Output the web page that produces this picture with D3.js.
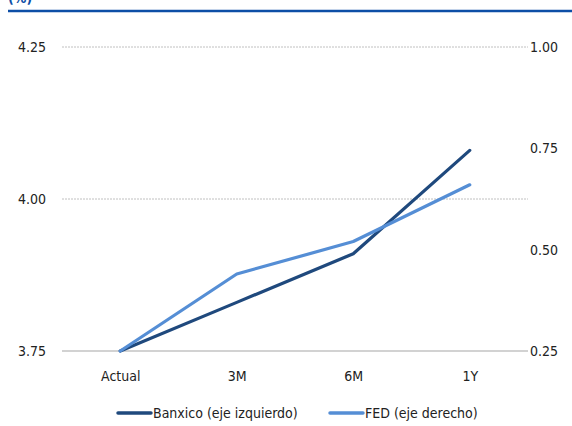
<!DOCTYPE html>
<html><head><meta charset="utf-8">
<script src="https://cdn.jsdelivr.net/npm/d3@7"></script>
<style>
body{margin:0;background:#fff;}
text{font-family:"Liberation Sans Narrow","DejaVu Sans Condensed",sans-serif;}
</style></head>
<body><svg id="c" width="572" height="426"></svg>
<script>
const categories = ["Actual","3M","6M","1Y"];
const banxico = [3.75, 3.83, 3.91, 4.08];
const fed = [0.25, 0.44, 0.52, 0.66];
const leftTicks = [3.75, 4.00, 4.25];
const rightTicks = [0.25, 0.50, 0.75, 1.00];
const seriesNames = ["Banxico (eje izquierdo)", "FED (eje derecho)"];
const colors = ["#1f497d", "#558ed5"];

const FS = 14;
const svg = d3.select("#c");
const L = 62, R = 528, T = 47, B = 351;
const x = d3.scalePoint().domain(categories).range([L, R]).padding(0.5);
const yL = d3.scaleLinear().domain([3.75, 4.25]).range([B, T]);
const yR = d3.scaleLinear().domain([0.25, 1.00]).range([B, T]);

// header
svg.append("text").attr("x", 8).attr("y", 3).attr("fill", "#0d4ea6")
  .attr("font-size", 14).attr("font-weight", "bold").text("(%)");
svg.append("line").attr("x1", 8).attr("x2", 572).attr("y1", 11).attr("y2", 11)
  .attr("stroke", "#0d4ea6").attr("stroke-width", 2.5);

// gridlines
svg.append("g").selectAll("line").data(leftTicks.filter(d => d !== 3.75)).join("line")
  .attr("x1", L).attr("x2", R).attr("y1", d => yL(d)).attr("y2", d => yL(d))
  .attr("stroke", "#c0c0c0").attr("stroke-dasharray", "2,1").attr("stroke-width", 1);
svg.append("line").attr("x1", L).attr("x2", R).attr("y1", yL(3.75)).attr("y2", yL(3.75))
  .attr("stroke", "#a6a6a6").attr("stroke-width", 1.2);

// left axis
const gl = svg.append("g").attr("transform", `translate(${L},0)`)
  .call(d3.axisLeft(yL).tickValues(leftTicks).tickFormat(d3.format(".2f")).tickSize(0).tickPadding(16));
gl.select(".domain").remove();
gl.selectAll("text").attr("font-size", FS).attr("fill", "#222");

// right axis
const gr = svg.append("g").attr("transform", `translate(${R},0)`)
  .call(d3.axisRight(yR).tickValues(rightTicks).tickFormat(d3.format(".2f")).tickSize(0).tickPadding(2));
gr.select(".domain").remove();
gr.selectAll("text").attr("font-size", FS).attr("fill", "#222");

// x axis
const gx = svg.append("g").attr("transform", `translate(0,${B})`)
  .call(d3.axisBottom(x).tickSize(0).tickPadding(20));
gx.select(".domain").remove();
gx.selectAll("text").attr("font-size", FS).attr("fill", "#222");

// lines
const lineL = d3.line().x((d, i) => x(categories[i])).y(d => yL(d));
const lineR = d3.line().x((d, i) => x(categories[i])).y(d => yR(d));
svg.append("path").datum(banxico).attr("d", lineL).attr("fill", "none")
  .attr("stroke", colors[0]).attr("stroke-width", 3.2).attr("stroke-linejoin", "round").attr("stroke-linecap", "round");
svg.append("path").datum(fed).attr("d", lineR).attr("fill", "none")
  .attr("stroke", colors[1]).attr("stroke-width", 3.2).attr("stroke-linejoin", "round").attr("stroke-linecap", "round");

// legend
const lg = [{x1: 118, tx: 153}, {x1: 330, tx: 365}];
seriesNames.forEach((n, i) => {
  svg.append("line").attr("x1", lg[i].x1).attr("x2", lg[i].x1 + 33).attr("y1", 413).attr("y2", 413)
    .attr("stroke", colors[i]).attr("stroke-width", 3.5).attr("stroke-linecap", "round");
  svg.append("text").attr("x", lg[i].tx).attr("y", 413).attr("dy", "0.35em")
    .attr("font-size", FS).attr("fill", "#222").text(n);
});
</script></body></html>
